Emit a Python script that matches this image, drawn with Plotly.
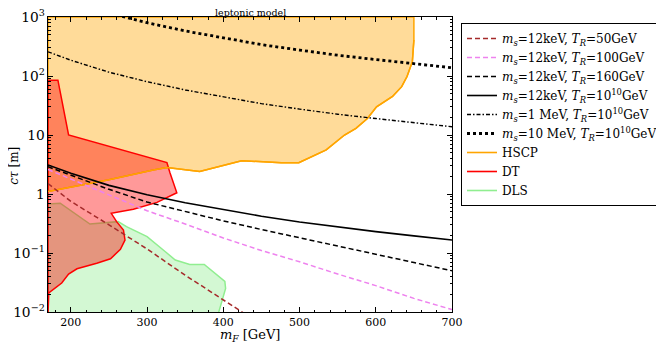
import plotly.graph_objects as go

# lifetime curves (m_F in GeV, c*tau in m)
mf = [170, 200, 250, 300, 350, 400, 450, 500, 550, 600, 650, 700]

mf_50 = [170, 200, 250, 300, 350, 400, 430]
ct_12kev_50 = [1.5, 0.75, 0.30, 0.117, 0.042, 0.016, 0.009]
ct_12kev_100 = [2.6, 1.8, 0.97, 0.52, 0.31, 0.18, 0.11, 0.071, 0.044, 0.028, 0.017, 0.011]
ct_12kev_160 = [2.9, 2.1, 1.2, 0.73, 0.50, 0.35, 0.25, 0.18, 0.13, 0.095, 0.069, 0.05]
ct_12kev_1e10 = [3.1, 2.25, 1.4, 0.97, 0.71, 0.54, 0.42, 0.335, 0.275, 0.23, 0.195, 0.166]
ct_1mev_1e10 = [257, 185, 116, 80, 58, 44, 34, 27.5, 22.5, 19, 16, 13.8]
ct_10mev_1e10 = [2570, 1840, 1160, 800, 580, 440, 340, 275, 225, 190, 160, 138]

# excluded regions (outlines)
hscp_x = [170, 250, 308, 326, 369, 396, 424, 476, 499, 535, 559, 574, 589, 601, 622,
          634, 641, 648, 650, 650, 170, 170]
hscp_y = [1.1, 1.75, 2.55, 2.8, 2.4, 3.0, 3.67, 3.4, 3.4, 5.6, 10, 13, 19, 30, 45,
          66, 98, 175, 408, 1000, 1000, 1.1]

dt_x = [170, 183, 197, 326, 330, 339, 313, 282, 253, 260, 269, 271, 265, 252, 234,
        208, 197, 188, 171, 170, 170]
dt_y = [85, 85, 10, 3.4, 2.3, 1.05, 0.72, 0.55, 0.47, 0.34, 0.245, 0.166, 0.115, 0.08,
        0.067, 0.054, 0.044, 0.031, 0.021, 0.009, 85]

dls_x = [170, 186, 225, 262, 273, 300, 324, 337, 356, 375, 402, 403, 398, 393, 170, 170]
dls_y = [0.68, 0.70, 0.31, 0.34, 0.28, 0.19, 0.105, 0.076, 0.064, 0.064, 0.033, 0.025,
         0.015, 0.009, 0.009, 0.68]

serif = "DejaVu Serif"

fig = go.Figure()

# shaded regions, drawn first and kept out of the legend
fig.add_trace(go.Scatter(x=hscp_x, y=hscp_y, fill="toself", fillcolor="rgba(255,165,0,0.4)",
                         mode="lines", line=dict(color="orange", width=1.5), showlegend=False, hoverinfo="skip"))
fig.add_trace(go.Scatter(x=dls_x, y=dls_y, fill="toself", fillcolor="rgba(144,238,144,0.4)",
                         mode="lines", line=dict(color="lightgreen", width=1.5), showlegend=False, hoverinfo="skip"))
fig.add_trace(go.Scatter(x=dt_x, y=dt_y, fill="toself", fillcolor="rgba(255,0,0,0.4)",
                         mode="lines", line=dict(color="red", width=1.5), showlegend=False, hoverinfo="skip"))
fig.add_trace(go.Scatter(x=hscp_x[:19], y=hscp_y[:19], mode="lines",
                         line=dict(color="orange", width=1.5), showlegend=False, hoverinfo="skip"))

dash = "5px,3px"
fig.add_trace(go.Scatter(x=mf_50, y=ct_12kev_50, mode="lines", line=dict(color="brown", width=1.5, dash=dash),
                         name="<i>m<sub>s</sub></i>=12keV, <i>T<sub>R</sub></i>=50GeV"))
fig.add_trace(go.Scatter(x=mf, y=ct_12kev_100, mode="lines", line=dict(color="violet", width=1.5, dash=dash),
                         name="<i>m<sub>s</sub></i>=12keV, <i>T<sub>R</sub></i>=100GeV"))
fig.add_trace(go.Scatter(x=mf, y=ct_12kev_160, mode="lines", line=dict(color="black", width=1.5, dash=dash),
                         name="<i>m<sub>s</sub></i>=12keV, <i>T<sub>R</sub></i>=160GeV"))
fig.add_trace(go.Scatter(x=mf, y=ct_12kev_1e10, mode="lines", line=dict(color="black", width=1.6),
                         name="<i>m<sub>s</sub></i>=12keV, <i>T<sub>R</sub></i>=10<sup>10</sup>GeV"))
fig.add_trace(go.Scatter(x=mf, y=ct_1mev_1e10, mode="lines",
                         line=dict(color="black", width=1.4, dash="4px,2px,1.5px,2px"),
                         name="<i>m<sub>s</sub></i>=1 MeV, <i>T<sub>R</sub></i>=10<sup>10</sup>GeV"))
fig.add_trace(go.Scatter(x=mf, y=ct_10mev_1e10, mode="lines", line=dict(color="black", width=2.8, dash="3px,3px"),
                         name="<i>m<sub>s</sub></i>=10 MeV, <i>T<sub>R</sub></i>=10<sup>10</sup>GeV"))

# legend-only line entries for the regions
for nm, col in [("HSCP", "orange"), ("DT", "red"), ("DLS", "lightgreen")]:
    fig.add_trace(go.Scatter(x=[None], y=[None], mode="lines", line=dict(color=col, width=1.6), name=nm))

axis_common = dict(showline=True, linecolor="black", linewidth=1, mirror="allticks",
                   ticks="inside", ticklen=5, tickcolor="black", showgrid=False, zeroline=False,
                   automargin=False, ticklabeloverflow="allow",
                   tickfont=dict(family=serif, size=11, color="black"))

fig.update_xaxes(range=[170, 700], dtick=100, tick0=0,
                 minor=dict(ticks="inside", ticklen=2.5, dtick=20, tickcolor="black"),
                 **axis_common)
fig.update_yaxes(type="log", range=[-2, 3], dtick=1, exponentformat="power",
                 minor=dict(ticks="inside", ticklen=2.5, dtick="D1", tickcolor="black"),
                 **axis_common)

fig.add_annotation(text="leptonic model", x=0.5, y=1, xref="paper", yref="paper",
                   yanchor="bottom", showarrow=False, yshift=-3,
                   font=dict(family=serif, size=9.5, color="black"))
fig.add_annotation(text="<i>m<sub>F</sub></i> [GeV]", x=0.5, y=-0.079, xref="paper", yref="paper",
                   yanchor="middle", showarrow=False,
                   font=dict(family=serif, size=13, color="black"))
fig.add_annotation(text="<i>cτ</i> [m]", x=-0.085, y=0.495, xref="paper", yref="paper",
                   xanchor="center", yanchor="middle", textangle=-90, showarrow=False,
                   font=dict(family=serif, size=12, color="black"))

# the page body adds an 8px margin, so the figure is 8px smaller than the window
W, H = 656, 341
fig.update_layout(
    width=W, height=H,
    margin=dict(l=39.5, r=211.5, t=9, b=37),
    plot_bgcolor="white", paper_bgcolor="white",
    legend=dict(xref="container", yref="container", x=453 / W, y=1 - 15 / H,
                xanchor="left", yanchor="top", maxheight=1,
                bordercolor="black", borderwidth=1, bgcolor="white",
                font=dict(family=serif, size=12, color="black"), tracegroupgap=0),
    showlegend=True,
)

fig.write_html("out.html")
